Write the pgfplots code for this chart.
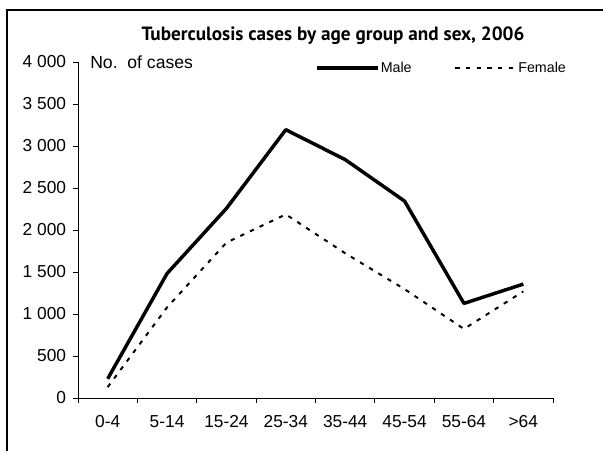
\documentclass[border=0pt]{standalone}
\usepackage{fontspec}
\setmainfont{Liberation Sans}
\newfontfamily\titlefont{PT Sans}
\usepackage{pgfplots}
\pgfplotsset{compat=1.18}
\begin{document}
\begin{tikzpicture}
\draw[line width=1.5pt] (5.25pt,-15pt) -- (5.25pt,330pt) -- (480pt,330pt);
\node[font=\titlefont\bfseries\fontsize{14.4}{16}\selectfont, inner sep=0pt] at (249.75pt,310.5pt) {Tuberculosis cases by age group and sex, 2006};
\begin{axis}[
  at={(58.5pt,39pt)}, anchor=south west,
  scale only axis, width=356.25pt, height=252pt,
  xmin=0, xmax=8, ymin=0, ymax=4000,
  axis x line*=bottom, axis y line*=left,
  axis line style={line width=0.6pt},
  tick align=outside,
  xtick={0.5,1.5,...,7.5},
  xticklabels={0-4,5-14,15-24,25-34,35-44,45-54,55-64,>64},
  major x tick style={draw=none},
  minor xtick={0,1,...,8},
  minor x tick style={draw=black, line width=0.6pt},
  minor tick length=3.75pt,
  major tick length=3.75pt,
  ytick={0,500,...,4000},
  y tick style={black, line width=0.6pt},
  tick label style={font=\fontsize{13}{15}\selectfont, inner sep=0pt},
  yticklabel style={xshift=-5pt},
  xticklabel style={yshift=-9pt},
  /pgf/number format/assume math mode=true,
  /pgf/number format/1000 sep={\ },
  clip=false,
  legend columns=2,
  legend style={draw=none, fill=none, inner sep=0pt, at={(0.499,0.982)}, anchor=west,
    font=\fontsize{10.7}{12}\selectfont,
    nodes={inner sep=1pt},
    /tikz/every even column/.append style={column sep=31pt}},
  legend image code/.code={\draw[#1] (0pt,0pt) -- (45.5pt,0pt);},
]
\addplot[black, line width=2.6pt, line join=round] coordinates {
 (0.5,229) (1.5,1482) (2.5,2257) (3.5,3194) (4.5,2838) (5.5,2344) (6.5,1126) (7.5,1356)};
\addlegendentry{Male}
\addplot[black, line width=1.5pt, dash pattern=on 3.2pt off 4.8pt] coordinates {
 (0.5,130) (1.5,1079) (2.5,1850) (3.5,2186) (4.5,1723) (5.5,1296) (6.5,822) (7.5,1269)};
\addlegendentry{Female}
\node[anchor=west, inner sep=0pt, font=\fontsize{13.2}{15}\selectfont] at (axis cs:0,4000) {\hspace{9pt}No.\ \ of cases};
\end{axis}
\pgfresetboundingbox
\useasboundingbox (0pt,0pt) rectangle (452.25pt,337.5pt);
\end{tikzpicture}
\end{document}
